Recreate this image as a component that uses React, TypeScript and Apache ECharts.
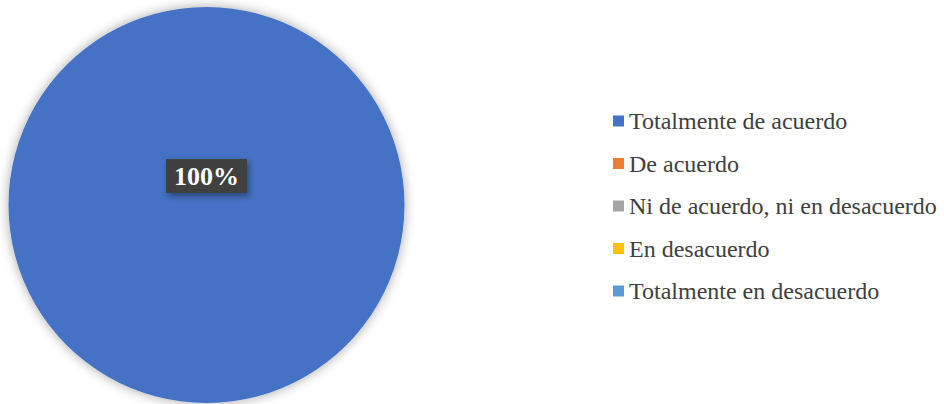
import React, { useEffect, useRef } from "react";
import * as echarts from "echarts";

const categories = [
  "Totalmente de acuerdo",
  "De acuerdo",
  "Ni de acuerdo, ni en desacuerdo",
  "En desacuerdo",
  "Totalmente en desacuerdo",
];
const values = [100, 0, 0, 0, 0];
const colors = ["#4472C4", "#ED7D31", "#A5A5A5", "#FFC000", "#5B9BD5"];
const serif = "'Liberation Serif', 'Times New Roman', serif";

export default function App() {
  const ref = useRef<HTMLDivElement>(null);
  useEffect(() => {
    document.body.style.margin = "0";
    const chart = echarts.init(ref.current!, null, { renderer: "svg" });
    chart.setOption({
      animation: false,
      color: colors,
      textStyle: { fontFamily: serif },
      legend: {
        orient: "vertical",
        left: 608,
        top: 104,
        itemWidth: 11,
        itemHeight: 11,
        itemGap: 18.5,
        icon: "rect",
        selectedMode: false,
        textStyle: {
          fontFamily: serif,
          fontSize: 24,
          lineHeight: 24,
          color: "#404040",
        },
        data: categories,
      },
      series: [
        {
          type: "pie",
          center: [206.5, 205],
          radius: [0, 198],
          startAngle: 90,
          clockwise: true,
          silent: true,
          stillShowZeroSum: true,
          labelLine: { show: false },
          itemStyle: {
            shadowBlur: 12,
            shadowColor: "rgba(0,0,0,0.35)",
          },
          label: { show: false },
          data: categories.map((name, i) => ({
            name,
            value: values[i],
            label:
              values[i] > 0
                ? {
                    show: true,
                    position: "center",
                    offset: [0, -29],
                    formatter: "{d}%",
                    fontFamily: serif,
                    fontWeight: "bold",
                    fontSize: 26,
                    color: "#ffffff",
                    backgroundColor: "#404040",
                    padding: [5, 8, 3, 8],
                    shadowBlur: 6,
                    shadowOffsetX: 2,
                    shadowOffsetY: 3,
                    shadowColor: "rgba(0,0,0,0.4)",
                  }
                : { show: false },
          })),
        },
      ],
    });
    return () => chart.dispose();
  }, []);
  return <div ref={ref} style={{ width: 944, height: 404 }} />;
}
